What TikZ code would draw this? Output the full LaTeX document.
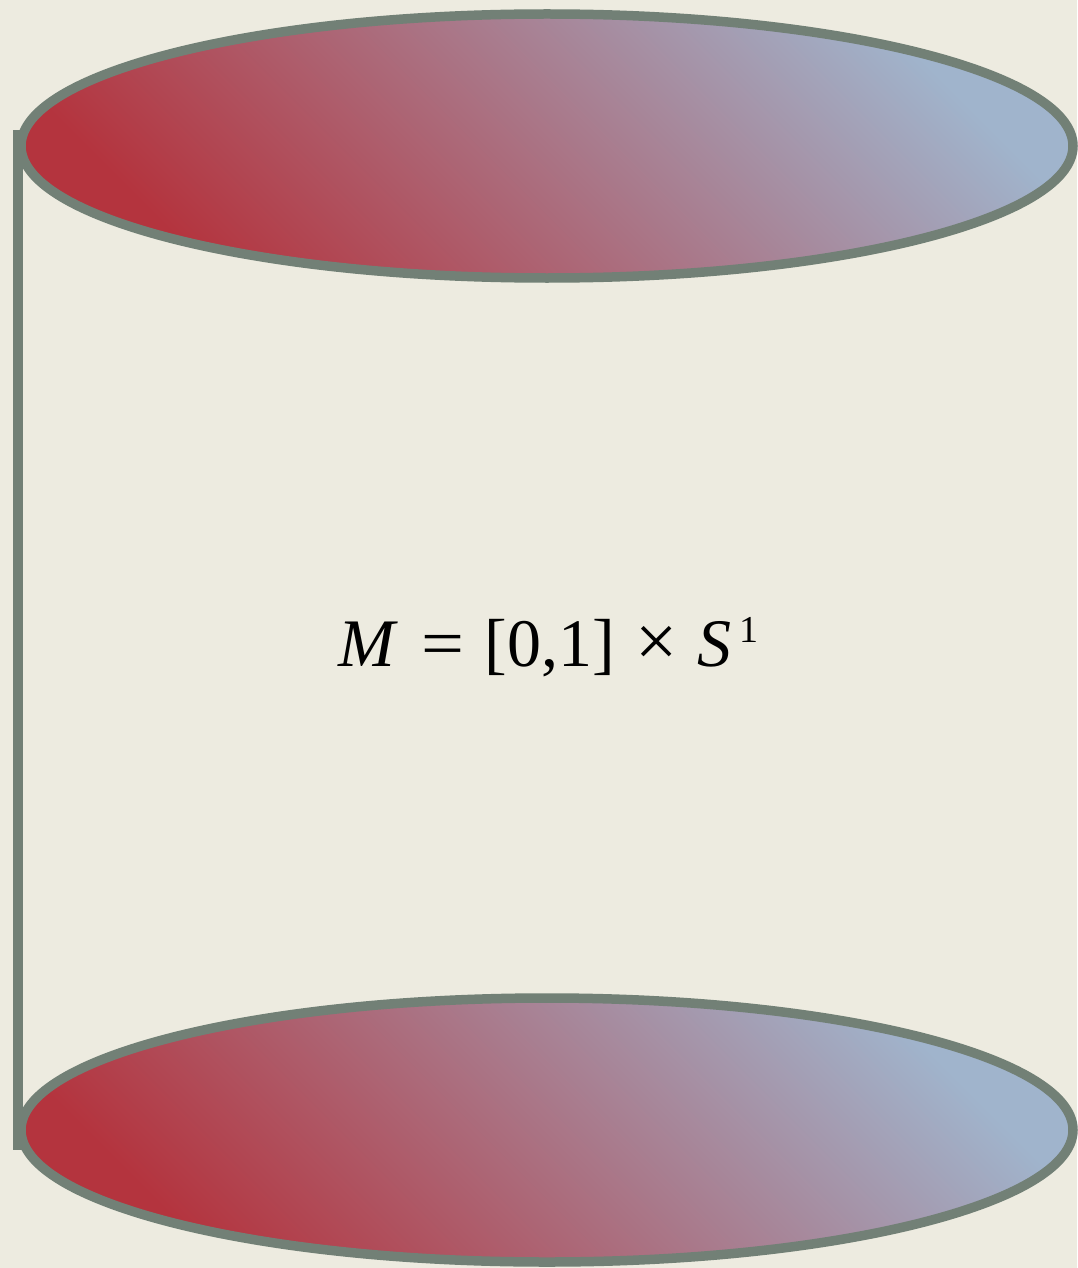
\documentclass[tikz,border=0pt]{standalone}
\usepackage{fontspec}
\setmainfont{Liberation Serif}
\usetikzlibrary{shapes.geometric}
\definecolor{paper}{RGB}{237,235,224}
\definecolor{rim}{RGB}{114,128,118}
\definecolor{capred}{RGB}{180,52,62}
\definecolor{capblue}{RGB}{160,180,204}
\tikzset{
  capdisk/.style={ellipse, draw=rim, line width=9.5pt, minimum width=1052pt,
    minimum height=264pt, inner sep=0pt, left color=capred, right color=capblue,
    shading angle=135},
  sideline/.style={draw=rim, line width=10pt},
  formula/.style={inner sep=0pt, font=\fontsize{68}{80}\selectfont}
}
\begin{document}
\begin{tikzpicture}[x=1pt,y=-1pt]
\fill[paper] (0,0) rectangle (1077,1268);
\useasboundingbox (0,0) rectangle (1077,1268);
\coordinate (lt) at (18,130);
\coordinate (lb) at (18,1150);
\draw[sideline] (lt) -- (lb);
\node[capdisk] (top) at (547,146) {};
\node[capdisk] (bottom) at (547,1130) {};
\node[formula, anchor=base west] (lbl) at (338,666) {\textit{M}\hspace{24pt}\scalebox{1.12}[1]{=}\hspace{20pt}[0,1]\hspace{20pt}\scalebox{1.1}{×}\hspace{20pt}\textit{S}\hspace{8pt}\raisebox{24pt}{\fontsize{38}{44}\selectfont 1}};
\end{tikzpicture}
\end{document}
